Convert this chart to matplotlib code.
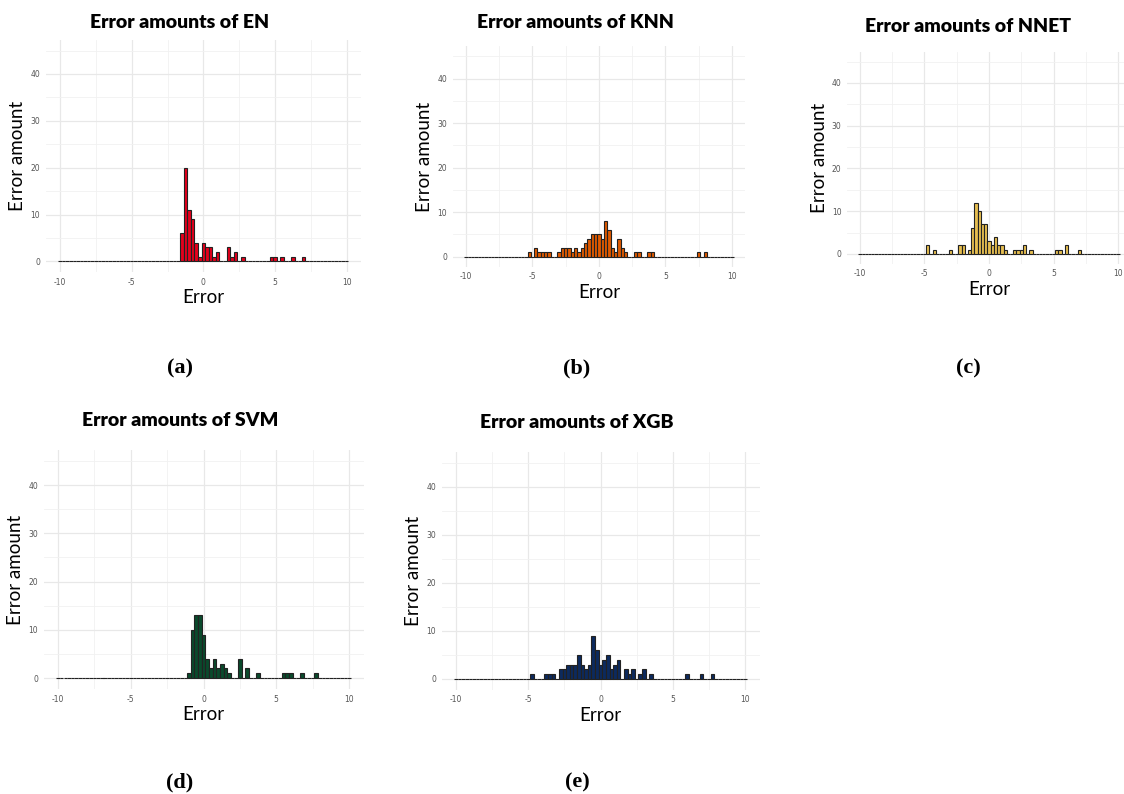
import numpy as np
import matplotlib
matplotlib.use("Agg")
import matplotlib.pyplot as plt
from matplotlib.ticker import MultipleLocator

plt.rcParams["axes.unicode_minus"] = False

# bin centres (error value) and counts, bin width 0.25
en_err = [-1.5, -1.25, -1.0, -0.75, -0.5, -0.25, 0.0, 0.25, 0.5, 0.75, 1.0,
          1.75, 2.0, 2.25, 2.75, 4.75, 5.0, 5.5, 6.25, 7.0]
en_cnt = [6, 20, 11, 9, 4, 1, 4, 3, 3, 1, 2, 3, 1, 2, 1, 1, 1, 1, 1, 1]

knn_err = [-5.25, -4.75, -4.5, -4.25, -4.0, -3.75, -3.0, -2.75, -2.5, -2.25,
           -2.0, -1.75, -1.5, -1.25, -1.0, -0.75, -0.5, -0.25, 0.0, 0.25, 0.5,
           0.75, 1.0, 1.25, 1.5, 1.75, 2.0, 2.75, 3.0, 3.75, 4.0, 7.5, 8.0]
knn_cnt = [1, 2, 1, 1, 1, 1, 1, 2, 2, 2, 1, 2, 1, 2, 3, 4, 5, 5, 5, 4, 8, 6,
           2, 1, 4, 2, 1, 1, 1, 1, 1, 1, 1]

nnet_err = [-4.75, -4.25, -3.0, -2.25, -2.0, -1.5, -1.25, -1.0, -0.75, -0.5,
            -0.25, 0.0, 0.25, 0.5, 0.75, 1.0, 1.25, 2.0, 2.25, 2.5, 2.75, 3.25,
            5.25, 5.5, 6.0, 7.0]
nnet_cnt = [2, 1, 1, 2, 2, 1, 6, 12, 10, 7, 7, 3, 2, 4, 2, 2, 1, 1, 1, 1, 2, 1,
            1, 1, 2, 1]

svm_err = [-1.0, -0.75, -0.5, -0.25, 0.0, 0.25, 0.5, 0.75, 1.0, 1.25, 1.5,
           1.75, 2.5, 3.0, 3.75, 5.5, 5.75, 6.0, 6.75, 7.75]
svm_cnt = [1, 10, 13, 13, 9, 4, 2, 4, 2, 3, 2, 1, 4, 2, 1, 1, 1, 1, 1, 1]

xgb_err = [-4.75, -3.75, -3.5, -3.25, -2.75, -2.5, -2.25, -2.0, -1.75, -1.5,
           -1.25, -1.0, -0.75, -0.5, -0.25, 0.0, 0.25, 0.5, 0.75, 1.0, 1.25,
           1.75, 2.0, 2.25, 2.75, 3.0, 3.5, 6.0, 7.0, 7.75]
xgb_cnt = [1, 1, 1, 1, 2, 2, 3, 3, 3, 5, 3, 2, 3, 9, 6, 3, 4, 5, 2, 3, 4,
           2, 1, 2, 1, 2, 1, 1, 1, 1]

models = ["EN", "KNN", "NNET", "SVM", "XGB"]
colors = ["#E5001C", "#E05A00", "#E6BE50", "#0A4A2C", "#0C2A5E"]
captions = ["(a)", "(b)", "(c)", "(d)", "(e)"]

W, H = 1124, 794
fig = plt.figure(figsize=(W / 100, H / 100), dpi=100)

# panel boxes in pixels: left, right, top, bottom (plus title / caption centre)
boxes = [
    (45.7, 361.0, 40.0, 272.0, 180, 22, 180, 368),
    (452.7, 745.3, 46.4, 266.7, 575, 22, 577, 368),
    (847.0, 1131.0, 52.0, 263.6, 968, 27, 968, 368),
    (43.5, 363.5, 450.0, 689.0, 180, 421, 180, 782),
    (441.5, 759.5, 452.0, 689.8, 577, 423, 577, 782),
]

bin_centres = np.arange(-10, 10.001, 0.25)
data = [(en_err, en_cnt), (knn_err, knn_cnt), (nnet_err, nnet_cnt),
        (svm_err, svm_cnt), (xgb_err, xgb_cnt)]

for i, (errs, cnts) in enumerate(data):
    x0, x1, yt, yb, tx, ty, cx, cy = boxes[i]
    ax = fig.add_axes([x0 / W, 1 - yb / H, (x1 - x0) / W, (yb - yt) / H])

    # full histogram incl. empty bins, so that the empty bins draw the baseline
    full = np.zeros(len(bin_centres))
    for e, c in zip(errs, cnts):
        full[int(round((e + 10) / 0.25))] = c
    ax.bar(bin_centres, full, width=0.25, color=colors[i],
           edgecolor="#222222", linewidth=0.8, zorder=3)

    ax.set_xlim(-11, 11)
    ax.set_ylim(-2.25, 47.25)
    ax.xaxis.set_major_locator(MultipleLocator(5))
    ax.xaxis.set_minor_locator(MultipleLocator(2.5))
    ax.yaxis.set_major_locator(MultipleLocator(10))
    ax.yaxis.set_minor_locator(MultipleLocator(5))
    ax.grid(which="major", color="#E8E8E8", linewidth=0.9, zorder=0)
    ax.grid(which="minor", color="#F1F1F1", linewidth=0.6, zorder=0)
    ax.set_axisbelow(True)
    for s in ax.spines.values():
        s.set_visible(False)
    ax.tick_params(which="both", length=0, labelsize=5.5, colors="#555555",
                   pad=4)
    ax.set_xlabel("Error", fontsize=13.5, family="Lato", labelpad=2)
    ax.set_ylabel("Error amount", fontsize=13.5, family="Lato", labelpad=3)

    fig.text(tx / W, 1 - ty / H, "Error amounts of " + models[i],
             ha="center", va="center", fontsize=14, fontweight="heavy",
             family="Lato")
    fig.text(cx / W, 1 - cy / H, captions[i], ha="center", va="center",
             fontsize=16, fontweight="bold", family="Liberation Serif")

fig.savefig("out.png", dpi=100)
